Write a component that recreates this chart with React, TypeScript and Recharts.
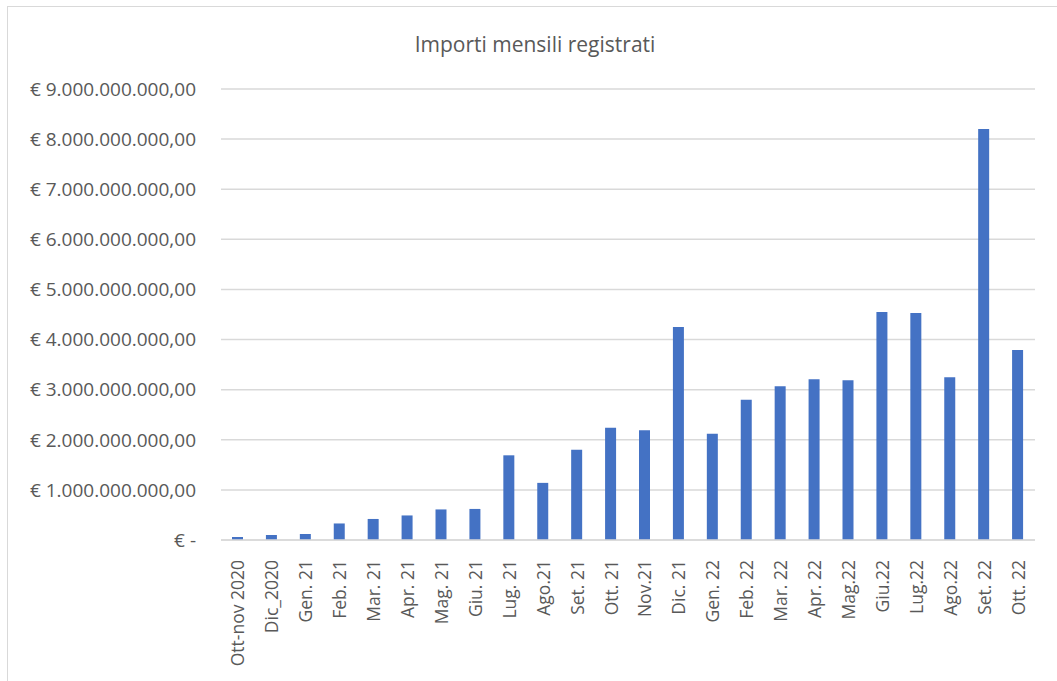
import React from 'react'
import { BarChart, Bar, XAxis, YAxis, CartesianGrid } from 'recharts'

const mesi = [
  'Ott-nov 2020', 'Dic_2020', 'Gen. 21', 'Feb. 21', 'Mar. 21', 'Apr. 21',
  'Mag. 21', 'Giu. 21', 'Lug. 21', 'Ago.21', 'Set. 21', 'Ott. 21',
  'Nov.21', 'Dic. 21', 'Gen. 22', 'Feb. 22', 'Mar. 22', 'Apr. 22',
  'Mag.22', 'Giu.22', 'Lug.22', 'Ago.22', 'Set. 22', 'Ott. 22',
]

const importi = [
  0.06e9, 0.1e9, 0.12e9, 0.33e9, 0.42e9, 0.49e9,
  0.61e9, 0.62e9, 1.69e9, 1.14e9, 1.8e9, 2.24e9,
  2.19e9, 4.25e9, 2.12e9, 2.8e9, 3.07e9, 3.21e9,
  3.19e9, 4.55e9, 4.53e9, 3.25e9, 8.2e9, 3.79e9,
]

const yTicks = [0, 1e9, 2e9, 3e9, 4e9, 5e9, 6e9, 7e9, 8e9, 9e9]

const data = mesi.map((mese, i) => ({ mese, importo: importi[i] }))

const FONT = '"Open Sans", sans-serif'
const GREY = '#595959'

function formatEuro(v: number) {
  if (v === 0) return '€ -'
  const s = Math.round(v).toString().replace(/\B(?=(\d{3})+(?!\d))/g, '.')
  return `€ ${s},00`
}

function MeseTick(props: any) {
  const { x, y, payload } = props
  return (
    <text
      x={0}
      y={0}
      transform={`translate(${x + 6.5},${y + 12}) rotate(-90)`}
      textAnchor="end"
      fill={GREY}
      fontSize={17.5}
      fontFamily={FONT}
    >
      {payload.value}
    </text>
  )
}

export default function App() {
  return (
    <div style={{ position: 'absolute', left: 0, top: 0, width: 1057, height: 681, background: '#fff', overflow: 'hidden' }}>
      <div
        style={{
          position: 'absolute', left: 7, top: 6, width: 1100, height: 700,
          borderTop: '1.5px solid #d9d9d9', borderLeft: '1.5px solid #d9d9d9',
        }}
      />
      <div
        style={{
          position: 'absolute', left: 0, top: 30, width: 1070, textAlign: 'center',
          fontFamily: FONT, fontSize: 21, color: GREY,
        }}
      >
        Importi mensili registrati
      </div>
      <div style={{ position: 'absolute', left: 0, top: 0 }}>
        <BarChart
          width={1057}
          height={681}
          data={data}
          margin={{ top: 89, right: 22, left: 0, bottom: 0 }}
        >
          <CartesianGrid vertical={false} stroke="#d9d9d9" strokeWidth={1.5} />
          <XAxis
            dataKey="mese"
            interval={0}
            tickLine={false}
            axisLine={{ stroke: '#d9d9d9', strokeWidth: 1.5 }}
            tick={<MeseTick />}
            height={141}
          />
          <YAxis
            width={221}
            domain={[0, 9e9]}
            ticks={yTicks}
            tickFormatter={formatEuro}
            axisLine={false}
            tickLine={false}
            tickSize={0}
            tickMargin={25}
            tick={{ fill: GREY, fontSize: 19, fontFamily: FONT }}
          />
          <Bar dataKey="importo" fill="#4472C4" barSize={11} isAnimationActive={false} />
        </BarChart>
      </div>
    </div>
  )
}
